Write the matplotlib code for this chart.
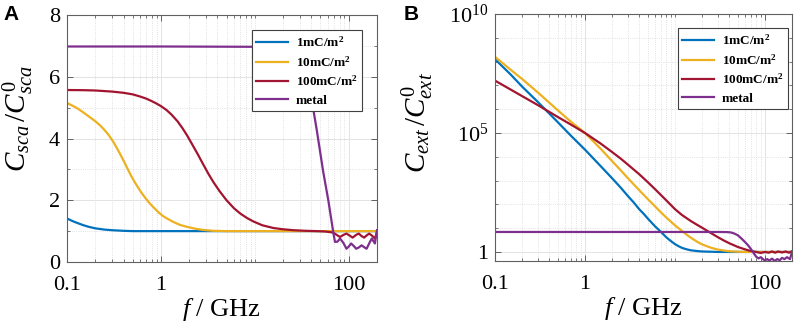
import numpy as np
import matplotlib
matplotlib.use("Agg")
import matplotlib.pyplot as plt
from matplotlib.ticker import FixedLocator, NullFormatter, FixedFormatter

plt.rcParams['font.family'] = ['Liberation Serif', 'DejaVu Serif']
plt.rcParams['mathtext.fontset'] = 'custom'
plt.rcParams['mathtext.rm'] = 'Liberation Serif'
plt.rcParams['mathtext.it'] = 'Liberation Serif:italic'
plt.rcParams['mathtext.bf'] = 'Liberation Serif:bold'

# ---------------- data ----------------
labels = ['1mC/m$^{\\mathbf{2}}$', '10mC/m$^{\\mathbf{2}}$', '100mC/m$^{\\mathbf{2}}$', 'metal']
colors = ['#0072BD', '#EDB120', '#A2142F', '#7E2F8E']

# Panel A: C_sca / C0_sca
fA_1 = [0.1, 0.11, 0.12, 0.135, 0.15, 0.17, 0.2, 0.25, 0.3, 0.4, 0.5, 1, 10, 50, 100, 200]
A_1 = [1.41, 1.35, 1.30, 1.24, 1.19, 1.14, 1.09, 1.05, 1.03, 1.01, 1.0, 1.0, 1.0, 1.0, 1.0, 1.0]

fA_10 = [0.1, 0.115, 0.13, 0.15, 0.175, 0.2, 0.226, 0.25, 0.28, 0.313, 0.35, 0.39, 0.435,
         0.48, 0.53, 0.603, 0.68, 0.76, 0.835, 0.95, 1.05, 1.16, 1.35, 1.6, 1.89, 2.3, 2.8,
         3.6, 5, 10, 50, 100, 200]
A_10 = [5.15, 5.06, 4.97, 4.84, 4.69, 4.56, 4.42, 4.28, 4.10, 3.88, 3.62, 3.35, 3.06,
        2.80, 2.57, 2.30, 2.08, 1.90, 1.77, 1.60, 1.49, 1.41, 1.30, 1.20, 1.14, 1.08, 1.04,
        1.01, 1.0, 1.0, 1.0, 1.0, 1.0]

fA_100 = [0.1, 0.15, 0.2, 0.3, 0.4, 0.5, 0.6, 0.7, 0.8, 0.9, 1.0, 1.15, 1.3, 1.5, 1.7, 1.9,
          2.2, 2.5, 2.8, 3.2, 3.6, 4.2, 5.0, 6, 7, 8.3, 9.7, 12, 15.8, 20, 25.7, 35, 45.8,
          55, 63, 68, 71, 76, 80.8, 88, 94.7, 103, 110, 120, 128, 137, 146, 155, 165, 176,
          190, 200]
A_100 = [5.57, 5.565, 5.555, 5.52, 5.48, 5.43, 5.36, 5.29, 5.21, 5.13, 5.05, 4.92, 4.77,
         4.56, 4.33, 4.10, 3.76, 3.46, 3.18, 2.86, 2.60, 2.30, 2.0, 1.74, 1.57, 1.42, 1.31,
         1.19, 1.10, 1.06, 1.03, 1.01, 1.0, 0.99, 0.97, 0.95, 0.92, 0.86, 0.81, 0.88, 0.92,
         0.85, 0.79, 0.88, 0.92, 0.84, 0.79, 0.86, 0.92, 0.86, 0.76, 0.97]

fA_m = [0.1, 1, 10, 30, 32.8, 40.4, 45.8, 53.5, 60.6, 68.8, 71.4, 76, 80.8, 87.6, 94.7,
        100, 106, 113, 120, 128, 137, 146, 155, 165, 176, 190, 200]
A_m = [6.98, 6.98, 6.97, 6.95, 6.85, 5.24, 4.25, 2.92, 2.0, 0.92, 0.65, 0.66, 0.76, 0.62,
       0.43, 0.5, 0.6, 0.52, 0.43, 0.47, 0.54, 0.48, 0.43, 0.6, 0.76, 0.6, 1.03]

# Panel B: C_ext / C0_ext  (log10 of the ratio)
fB_1 = [0.1, 0.15, 0.2, 0.3, 0.5, 0.7, 1, 1.5, 2, 2.5, 3, 3.5, 4, 4.5, 5, 6, 7, 8, 9, 10,
        11, 12, 13.5, 15, 17.5, 20, 25, 30, 50, 100, 200]
B_1 = [8.1, 7.45, 6.95, 6.3, 5.45, 4.88, 4.3, 3.6, 3.1, 2.7, 2.35, 2.07, 1.8, 1.6, 1.4,
       1.08, 0.84, 0.62, 0.46, 0.33, 0.24, 0.17, 0.11, 0.07, 0.04, 0.02, 0.01, 0.0, 0.0,
       0.0, 0.0]

fB_10 = [0.1, 0.15, 0.2, 0.3, 0.5, 0.7, 1, 1.5, 2, 2.5, 3, 4, 5, 6, 7, 8, 10, 12, 14, 16,
         18, 20, 25, 30, 35, 40, 50, 60, 100, 200]
B_10 = [8.2, 7.65, 7.27, 6.7, 5.95, 5.47, 5.0, 4.33, 3.82, 3.43, 3.1, 2.6, 2.22, 1.92,
        1.66, 1.45, 1.12, 0.88, 0.68, 0.53, 0.41, 0.32, 0.18, 0.1, 0.06, 0.03, 0.01, 0.0,
        0.0, 0.0]

fB_100 = [0.1, 0.15, 0.2, 0.3, 0.5, 0.7, 1, 1.5, 2, 2.5, 3, 4, 5, 6, 7, 8, 10, 12, 15, 18,
          20, 25, 30, 35, 40, 50, 60, 70, 80, 90, 100, 110, 120, 130, 140, 155, 170, 185, 200]
B_100 = [7.2, 6.82, 6.55, 6.17, 5.67, 5.35, 5.0, 4.55, 4.2, 3.92, 3.67, 3.27, 2.93, 2.64,
         2.39, 2.17, 1.8, 1.55, 1.3, 1.12, 1.02, 0.8, 0.62, 0.48, 0.37, 0.21, 0.11, 0.04,
         0.0, -0.04, 0.0, -0.03, 0.02, -0.03, 0.02, -0.02, 0.02, -0.03, 0.03]

fB_m = [0.1, 1, 10, 30, 38, 42, 46, 50, 55, 60, 65, 70, 75, 80, 85, 90, 95, 100, 106, 112,
        120, 128, 137, 146, 155, 165, 176, 190, 200]
B_m = [0.84, 0.84, 0.84, 0.84, 0.835, 0.82, 0.77, 0.7, 0.56, 0.42, 0.28, 0.12, -0.05,
       -0.2, -0.27, -0.22, -0.3, -0.36, -0.3, -0.36, -0.28, -0.38, -0.3, -0.35, -0.25,
       -0.3, -0.22, -0.3, 0.0]

# ---------------- figure ----------------
fig = plt.figure(figsize=(7.96, 3.28), dpi=100)
axA = fig.add_axes([67/796, 66/328, 310/796, 247/328])
axB = fig.add_axes([495/796, 67/328, 297/796, 247/328])

seriesA = [(fA_1, A_1), (fA_10, A_10), (fA_100, A_100), (fA_m, A_m)]
seriesB = [(fB_1, B_1), (fB_10, B_10), (fB_100, B_100), (fB_m, B_m)]

for (f, v), c, lab in zip(seriesA, colors, labels):
    axA.plot(f, v, color=c, lw=1.6, label=lab)
for (f, v), c, lab in zip(seriesB, colors, labels):
    axB.plot(f, 10 ** np.array(v), color=c, lw=1.6, label=lab)

spine_col = '#606060'
for ax in (axA, axB):
    ax.set_xscale('log')
    ax.set_xlim(0.1, 200)
    ax.xaxis.set_major_locator(FixedLocator([0.1, 1, 100]))
    ax.xaxis.set_major_formatter(FixedFormatter(['0.1', '1', '100']))
    minors = [m * 10.0 ** e for e in (-1, 0, 1, 2) for m in range(1, 10)]
    minors = [x for x in minors if x not in (0.1, 1, 100) and x <= 200]
    ax.xaxis.set_minor_locator(FixedLocator(minors))
    ax.xaxis.set_minor_formatter(NullFormatter())
    ax.tick_params(which='both', direction='in', top=True, right=True, colors=spine_col,
                   labelcolor='black', labelsize=16)
    ax.tick_params(which='major', length=4, width=0.7)
    ax.tick_params(which='minor', length=2, width=0.6)
    ax.tick_params(axis='x', pad=10)
    ax.tick_params(axis='y', pad=5)
    for s in ax.spines.values():
        s.set_color(spine_col)
        s.set_linewidth(0.8)
    ax.grid(which='major', color='#e3e3e3', lw=0.7, ls='-')
    ax.grid(which='minor', color='#d8d8d8', lw=0.6, ls=':')
    ax.set_axisbelow(True)
    ax.set_xlabel(r'$f$ / GHz', fontsize=19, labelpad=1)

axA.set_ylim(0, 8)
axA.set_yticks([0, 2, 4, 6, 8])
axA.yaxis.set_minor_locator(FixedLocator([1, 3, 5, 7]))
axA.set_ylabel(r'$C_{sca}\,/C_{sca}^{\mathit{0}}$', fontsize=21)
axA.yaxis.set_label_coords(-0.10, 0.58)

axB.set_yscale('log')
axB.set_ylim(10 ** -0.38, 1e10)
axB.yaxis.set_major_locator(FixedLocator([1, 1e5, 1e10]))
axB.yaxis.set_major_formatter(FixedFormatter(['1', r'$10^5$', r'$10^{10}$']))
axB.yaxis.set_minor_locator(FixedLocator([10.0 ** k for k in range(1, 10) if k != 5]))
axB.yaxis.set_minor_formatter(NullFormatter())
axB.set_ylabel(r'$C_{ext}\,/C_{ext}^{\mathit{0}}$', fontsize=21)
axB.yaxis.set_label_coords(-0.20, 0.56)

leg_kw = dict(prop={'family': 'Liberation Serif', 'weight': 'bold', 'size': 9.5},
              frameon=True, fancybox=False, framealpha=1, edgecolor='#404040',
              handlelength=2.4, handletextpad=0.6, labelspacing=0.4, borderpad=0.35,
              borderaxespad=0)
lA = axA.legend(loc='upper right', bbox_to_anchor=(0.952, 0.939), **leg_kw)
lB = axB.legend(loc='upper right', bbox_to_anchor=(0.987, 0.943), **leg_kw)
for l in (lA, lB):
    l.get_frame().set_linewidth(0.8)

fig.text(3/796, 1 - 5/328, 'A', fontsize=15, fontweight='bold', family='Liberation Sans',
         va='top', ha='left')
fig.text(404/796, 1 - 5/328, 'B', fontsize=15, fontweight='bold', family='Liberation Sans',
         va='top', ha='left')

fig.savefig('out.png', dpi=100)
